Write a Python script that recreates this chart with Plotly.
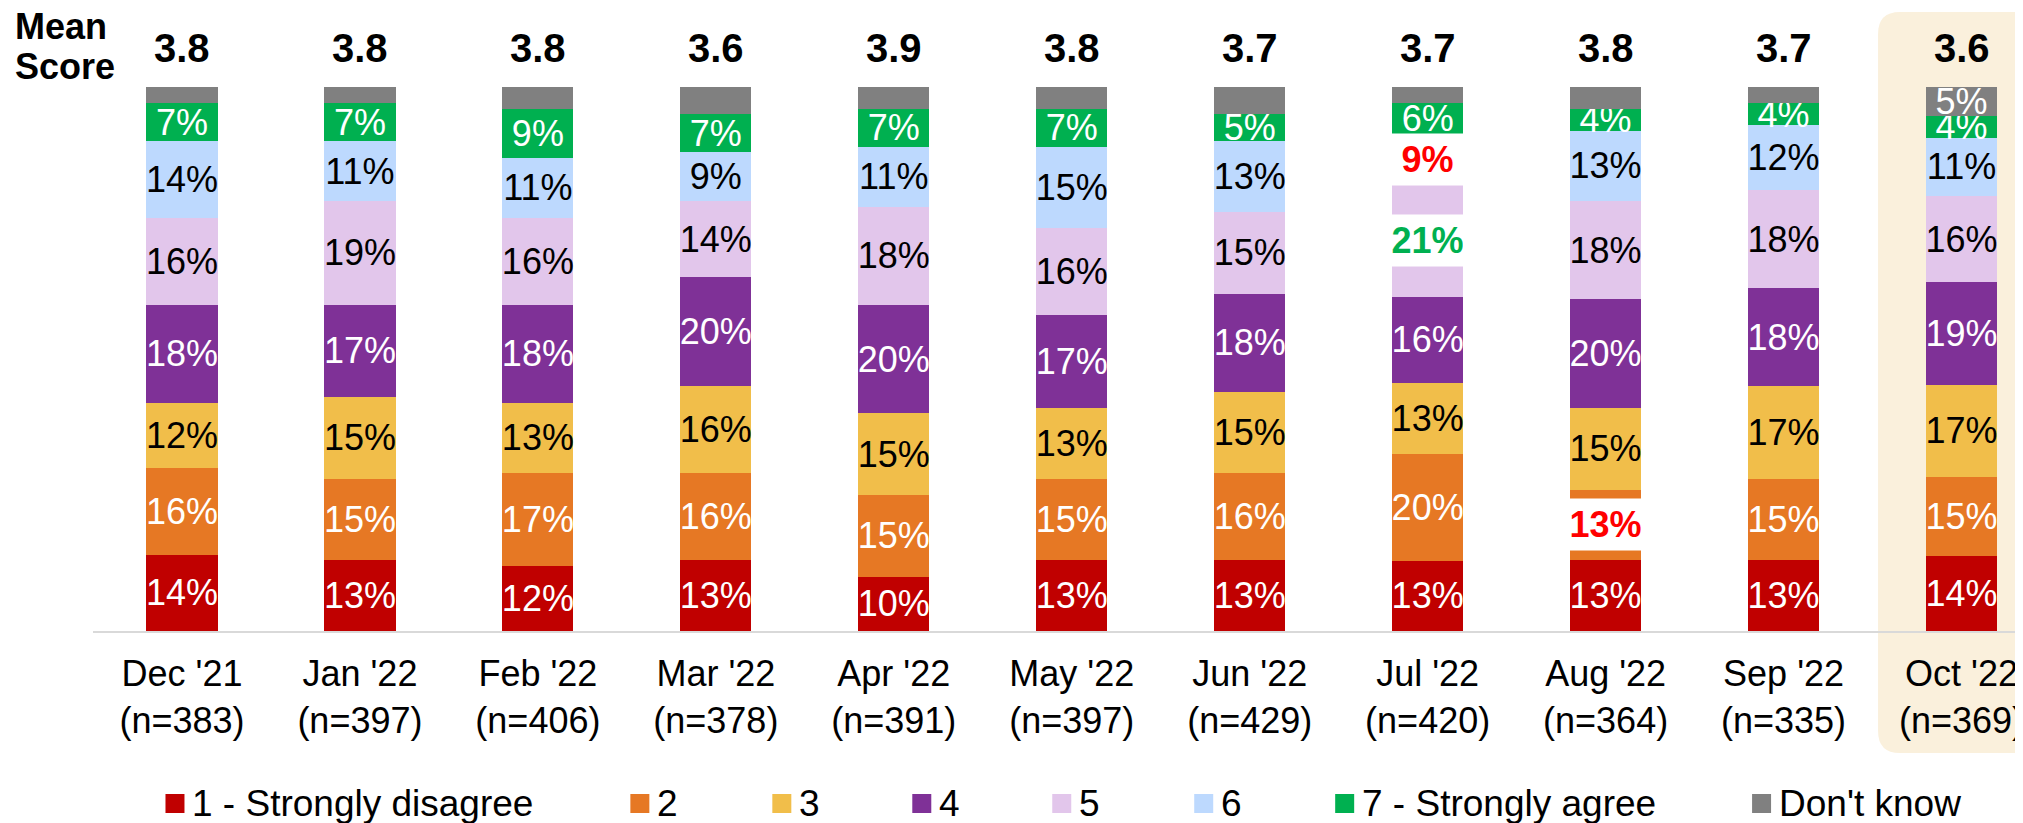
import plotly.graph_objects as go

# ---------------- data ----------------
months = ["Dec '21", "Jan '22", "Feb '22", "Mar '22", "Apr '22", "May '22",
          "Jun '22", "Jul '22", "Aug '22", "Sep '22", "Oct '22"]
n_sizes = [383, 397, 406, 378, 391, 397, 429, 420, 364, 335, 369]
mean_scores = [3.8, 3.8, 3.8, 3.6, 3.9, 3.8, 3.7, 3.7, 3.8, 3.7, 3.6]

s1_strongly_disagree = [14, 13, 12, 13, 10, 13, 13, 12.9, 13, 13, 13.7]
s2 = [16, 15, 17, 16, 15, 15, 16, 19.7, 13, 15, 14.7]
s3 = [12, 15, 13, 16, 15, 13, 15, 13.0, 15, 17, 16.9]
s4 = [18, 17, 18, 20, 20, 17, 18, 15.8, 20, 18, 18.8]
s5 = [16, 19, 16, 14, 18, 16, 15, 20.6, 18, 18, 15.8]
s6 = [14, 11, 11, 9, 11, 15, 13, 9.4, 13, 12, 10.8]
s7_strongly_agree = [7, 7, 9, 7, 7, 7, 5, 5.7, 4, 4, 4.0]
dont_know = [3, 3, 4, 5, 4, 4, 5, 2.9, 4, 3, 5.3]

series_names = ["1 - Strongly disagree", "2", "3", "4", "5", "6",
                "7 - Strongly agree", "Don't know"]
series_values = [s1_strongly_disagree, s2, s3, s4, s5, s6, s7_strongly_agree, dont_know]

# "Don't know" is labelled only for the latest month
dk_label_months = ["Oct '22"]
# highlighted labels: (month, series index, colour)
highlights = [("Jul '22", 5, "#FF0000"), ("Jul '22", 4, "#00B050"), ("Aug '22", 1, "#FF0000")]

# ---------------- styles ----------------
colors = ["#C00000", "#E67824", "#F1BE4A", "#7F3197", "#E2C6EB", "#BDD9FE", "#00B050", "#808080"]
text_colors = ["white", "white", "black", "white", "black", "black", "white", "white"]
FONT = "Liberation Sans, Arial, sans-serif"

OFF = 8  # page body margin offset (screen px)
W, H = 2023, 823
# target screen positions
PLOT_LEFT, PLOT_TOP, PLOT_BOTTOM = 92.5, 87, 631
ML = PLOT_LEFT - OFF
MT = PLOT_TOP - OFF
MB = H - (PLOT_BOTTOM - OFF)
MR = 0
plot_w = W - ML - MR
plot_h = H - MT - MB
x_right = -0.5 + plot_w / 178.0


def px_x(sx):
    return (sx - OFF - ML) / plot_w


def px_y(sy):
    return (H - MB - (sy - OFF)) / plot_h


fig = go.Figure()

hl_set = {(m, s) for m, s, _ in highlights}
for si, (name, vals) in enumerate(zip(series_names, series_values)):
    texts = []
    for m, v in zip(months, vals):
        if (m, si) in hl_set:
            texts.append("")
        elif si == 7 and m not in dk_label_months:
            texts.append("")
        else:
            texts.append(f"{v:.0f}%")
    fig.add_trace(go.Bar(
        x=months, y=vals, name=name,
        marker=dict(color=colors[si], line=dict(width=0)),
        width=0.4,
        text=texts, textposition="inside", insidetextanchor="middle",
        textangle=0,
        textfont=dict(family=FONT, size=36, color=text_colors[si]),
        cliponaxis=False,
        showlegend=False,
        hoverinfo="skip",
    ))

# highlighted labels in white boxes
for m, si, col in highlights:
    i = months.index(m)
    base = sum(series_values[k][i] for k in range(si))
    v = series_values[si][i]
    fig.add_annotation(
        x=m, y=base + v / 2, xref="x", yref="y",
        text=f"<b>{v:.0f}%</b>", showarrow=False,
        font=dict(family=FONT, size=36, color=col),
        bgcolor="white", width=71, height=51, borderpad=0,
        xanchor="center", yanchor="middle",
    )

# mean scores
for m, ms in zip(months, mean_scores):
    fig.add_annotation(
        x=m, y=px_y(48), xref="x", yref="paper",
        text=f"<b>{ms:.1f}</b>", showarrow=False,
        font=dict(family=FONT, size=40, color="black"),
        xanchor="center", yanchor="middle",
    )
for word, cy in (("Mean", 26), ("Score", 67)):
    fig.add_annotation(
        x=px_x(13), y=px_y(cy), xref="paper", yref="paper",
        text=f"<b>{word}</b>", showarrow=False, align="left", borderpad=0,
        font=dict(family=FONT, size=36, color="black"),
        xanchor="left", yanchor="middle",
    )

# highlight background for the latest month
x0, x1 = px_x(1878), px_x(2080)
yt, yb = px_y(12), px_y(753)
rx, ry = 22 / plot_w, 22 / plot_h
path = (f"M {x0 + rx},{yt} L {x1},{yt} L {x1},{yb} L {x0 + rx},{yb} "
        f"Q {x0},{yb} {x0},{yb + ry} L {x0},{yt - ry} Q {x0},{yt} {x0 + rx},{yt} Z")
fig.add_shape(type="path", path=path, xref="paper", yref="paper",
              fillcolor="#FAF0DC", line=dict(width=0), layer="below")

# legend (squares + labels)
legend_square_left = [165, 630, 772, 912, 1052, 1194, 1335, 1752]
LEG_Y = 803.5
SQ = 19
for si, sx in enumerate(legend_square_left):
    fig.add_shape(type="rect", xref="paper", yref="paper",
                  x0=px_x(sx), x1=px_x(sx + SQ),
                  y0=px_y(LEG_Y + SQ / 2), y1=px_y(LEG_Y - SQ / 2),
                  fillcolor=colors[si], line=dict(width=0))
    fig.add_annotation(
        x=px_x(sx + 26), y=px_y(LEG_Y), xref="paper", yref="paper",
        text=series_names[si], showarrow=False, borderpad=0,
        font=dict(family=FONT, size=37, color="black"),
        xanchor="left", yanchor="middle",
    )

fig.update_layout(
    width=W, height=H,
    margin=dict(l=ML, r=MR, t=MT, b=MB, pad=0, autoexpand=False),
    barmode="stack",
    paper_bgcolor="white", plot_bgcolor="rgba(0,0,0,0)",
    font=dict(family=FONT, size=36, color="black"),
    uniformtext=dict(minsize=36, mode="show"),
    showlegend=False,
)
fig.update_xaxes(
    type="category", range=[-0.5, x_right], automargin=False,
    tickmode="array", tickvals=months,
    ticktext=[f"{m}<br>(n={n})" for m, n in zip(months, n_sizes)],
    tickfont=dict(family=FONT, size=36, color="black"),
    ticklabelstandoff=10,
    showline=True, linecolor="#D9D9D9", linewidth=2,
    showgrid=False, ticks="", zeroline=False,
)
fig.update_yaxes(range=[0, 100], visible=False, showgrid=False, zeroline=False,
                 automargin=False)

fig.write_html("out.html")
